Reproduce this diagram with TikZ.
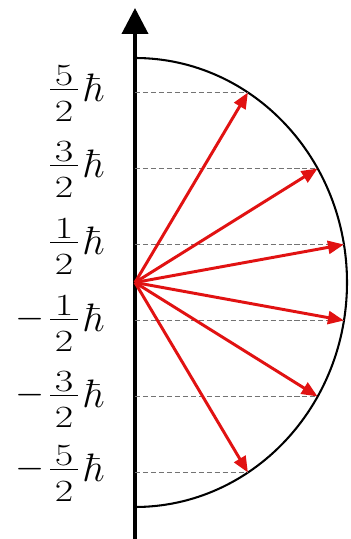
\documentclass[tikz,border=0pt]{standalone}
\usepackage{graphicx}
\usetikzlibrary{arrows.meta}
\definecolor{spinred}{RGB}{225, 18, 18}
\definecolor{levelgray}{RGB}{115, 115, 115}

% fraction with a long bar, bar on the baseline
\newcommand{\lvldigit}[1]{\scalebox{1.3}[1]{#1}}
\newcommand{\lvlfrac}[2]{%
  \rlap{\rule[-0.7pt]{21.8pt}{1.4pt}}%
  \rlap{\makebox[21.8pt]{\raisebox{3.2pt}{\lvldigit{#1}}}}%
  \makebox[21.8pt]{\raisebox{-25.2pt}{\lvldigit{#2}}}}
\newcommand{\lvlminus}{\raisebox{-7.3pt}{\scalebox{1.17}{\Huge$-$}}\hspace{4.6pt}}
\newcommand{\lvlhbar}{\hspace{4.6pt}\raisebox{-9.3pt}{\scalebox{1.24}{\Huge$\hbar$}}}

\begin{document}
\begin{tikzpicture}[
    x=0.7775pt, y=0.7775pt,
    zaxis/.style={
        line width=3pt,
        -{Triangle[length=20.2pt, width=20.2pt]}
    },
    shell/.style={line width=1.6pt},
    level/.style={
        levelgray,
        line width=0.6pt,
        dash pattern=on 3.9pt off 2.3pt
    },
    spin/.style={
        spinred,
        line width=2.3pt,
        -{Triangle[length=12.4pt, width=10.1pt]}
    },
    mlbl/.style={
        anchor=base east,
        inner sep=0pt,
        font=\fontsize{24}{28}\selectfont
    }
]

\useasboundingbox (-135,-256.5) rectangle (215,282.5);

% === Axis and shell ===
\coordinate (o) at (0,0);
\coordinate (zbot) at (0,-256.5);
\coordinate (ztop) at (0,274.5);
\draw[shell] (0,224.5) arc[start angle=90, end angle=-90, x radius=212, y radius=224.5];
\draw[zaxis] (zbot) -- (ztop);

% === Levels ===
\coordinate (a52) at (0,190);    \coordinate (t52) at (112.9,190);
\coordinate (a32) at (0,114);    \coordinate (t32) at (182.6,114);
\coordinate (a12) at (0,38);     \coordinate (t12) at (208.9,38);
\coordinate (am12) at (0,-38);   \coordinate (tm12) at (208.9,-38);
\coordinate (am32) at (0,-114);  \coordinate (tm32) at (182.6,-114);
\coordinate (am52) at (0,-190);  \coordinate (tm52) at (112.9,-190);

\draw[level] (a52) -- (t52);
\draw[level] (a32) -- (t32);
\draw[level] (a12) -- (t12);
\draw[level] (am12) -- (tm12);
\draw[level] (am32) -- (tm32);
\draw[level] (am52) -- (tm52);

% === Labels ===
\node[mlbl] (m52) at (-30,193) {\lvlfrac{5}{2}\lvlhbar};
\node[mlbl] (m32) at (-30,117) {\lvlfrac{3}{2}\lvlhbar};
\node[mlbl] (m12) at (-30,40) {\lvlfrac{1}{2}\lvlhbar};
\node[mlbl] (mm12) at (-30,-37) {\lvlminus\lvlfrac{1}{2}\lvlhbar};
\node[mlbl] (mm32) at (-30,-113) {\lvlminus\lvlfrac{3}{2}\lvlhbar};
\node[mlbl] (mm52) at (-30,-187) {\lvlminus\lvlfrac{5}{2}\lvlhbar};

% === Spin vectors ===
\draw[spin] (o) -- (t52);
\draw[spin] (o) -- (t32);
\draw[spin] (o) -- (t12);
\draw[spin] (o) -- (tm12);
\draw[spin] (o) -- (tm32);
\draw[spin] (o) -- (tm52);

\end{tikzpicture}
\end{document}
